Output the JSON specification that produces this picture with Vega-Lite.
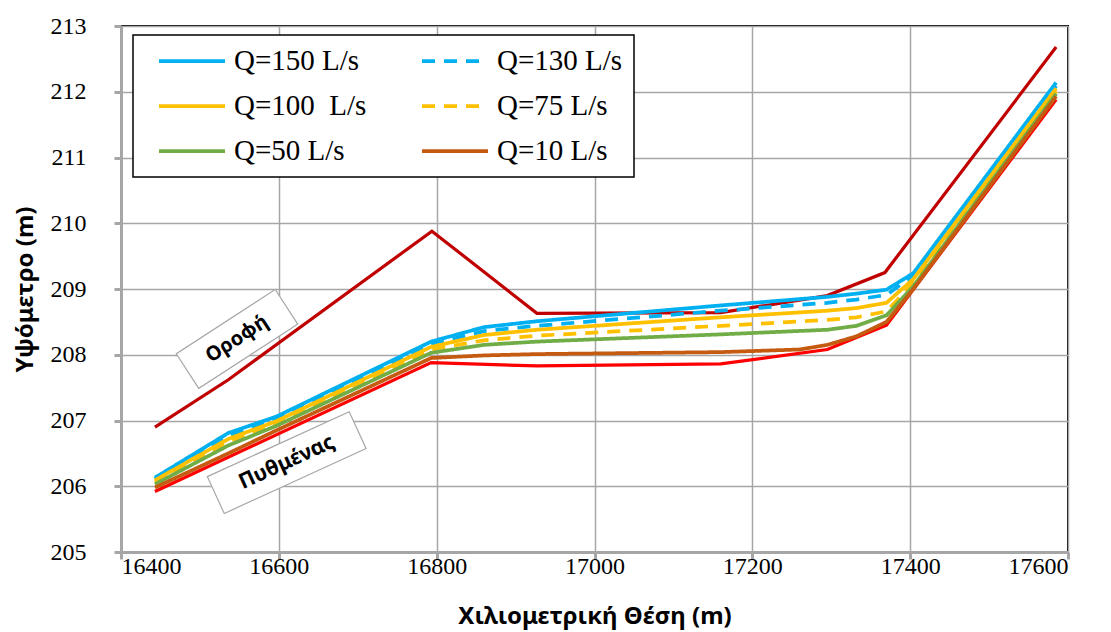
{
  "$schema": "https://vega.github.io/schema/vega-lite/v6.json",
  "width": 947,
  "height": 526,
  "autosize": {"type": "none"},
  "padding": {"left": 121, "top": 26, "right": 43, "bottom": 80},
  "background": "white",
  "datasets": {
    "flows": [
      {"x": 16443, "y": 206.13, "series": "Q=150 L/s"},
      {"x": 16536, "y": 206.81, "series": "Q=150 L/s"},
      {"x": 16597, "y": 207.06, "series": "Q=150 L/s"},
      {"x": 16793, "y": 208.2, "series": "Q=150 L/s"},
      {"x": 16860, "y": 208.42, "series": "Q=150 L/s"},
      {"x": 16927, "y": 208.51, "series": "Q=150 L/s"},
      {"x": 17160, "y": 208.75, "series": "Q=150 L/s"},
      {"x": 17295, "y": 208.88, "series": "Q=150 L/s"},
      {"x": 17332, "y": 208.93, "series": "Q=150 L/s"},
      {"x": 17370, "y": 208.99, "series": "Q=150 L/s"},
      {"x": 17404, "y": 209.24, "series": "Q=150 L/s"},
      {"x": 17585, "y": 212.14, "series": "Q=150 L/s"},
      {"x": 16443, "y": 206.11, "series": "Q=130 L/s"},
      {"x": 16536, "y": 206.77, "series": "Q=130 L/s"},
      {"x": 16597, "y": 207.03, "series": "Q=130 L/s"},
      {"x": 16793, "y": 208.16, "series": "Q=130 L/s"},
      {"x": 16860, "y": 208.36, "series": "Q=130 L/s"},
      {"x": 16927, "y": 208.44, "series": "Q=130 L/s"},
      {"x": 17160, "y": 208.67, "series": "Q=130 L/s"},
      {"x": 17295, "y": 208.79, "series": "Q=130 L/s"},
      {"x": 17332, "y": 208.84, "series": "Q=130 L/s"},
      {"x": 17370, "y": 208.91, "series": "Q=130 L/s"},
      {"x": 17404, "y": 209.21, "series": "Q=130 L/s"},
      {"x": 17585, "y": 212.09, "series": "Q=130 L/s"},
      {"x": 16443, "y": 206.09, "series": "Q=100 \u00a0L/s"},
      {"x": 16536, "y": 206.72, "series": "Q=100 \u00a0L/s"},
      {"x": 16597, "y": 206.99, "series": "Q=100 \u00a0L/s"},
      {"x": 16793, "y": 208.12, "series": "Q=100 \u00a0L/s"},
      {"x": 16860, "y": 208.3, "series": "Q=100 \u00a0L/s"},
      {"x": 16927, "y": 208.38, "series": "Q=100 \u00a0L/s"},
      {"x": 17160, "y": 208.57, "series": "Q=100 \u00a0L/s"},
      {"x": 17295, "y": 208.67, "series": "Q=100 \u00a0L/s"},
      {"x": 17332, "y": 208.71, "series": "Q=100 \u00a0L/s"},
      {"x": 17370, "y": 208.79, "series": "Q=100 \u00a0L/s"},
      {"x": 17404, "y": 209.15, "series": "Q=100 \u00a0L/s"},
      {"x": 17585, "y": 212.05, "series": "Q=100 \u00a0L/s"},
      {"x": 16443, "y": 206.06, "series": "Q=75 L/s"},
      {"x": 16536, "y": 206.68, "series": "Q=75 L/s"},
      {"x": 16597, "y": 206.96, "series": "Q=75 L/s"},
      {"x": 16793, "y": 208.08, "series": "Q=75 L/s"},
      {"x": 16860, "y": 208.22, "series": "Q=75 L/s"},
      {"x": 16927, "y": 208.29, "series": "Q=75 L/s"},
      {"x": 17160, "y": 208.44, "series": "Q=75 L/s"},
      {"x": 17295, "y": 208.53, "series": "Q=75 L/s"},
      {"x": 17332, "y": 208.57, "series": "Q=75 L/s"},
      {"x": 17370, "y": 208.66, "series": "Q=75 L/s"},
      {"x": 17404, "y": 209.09, "series": "Q=75 L/s"},
      {"x": 17585, "y": 212.01, "series": "Q=75 L/s"},
      {"x": 16443, "y": 206.03, "series": "Q=50 L/s"},
      {"x": 16536, "y": 206.62, "series": "Q=50 L/s"},
      {"x": 16597, "y": 206.92, "series": "Q=50 L/s"},
      {"x": 16793, "y": 208.03, "series": "Q=50 L/s"},
      {"x": 16860, "y": 208.15, "series": "Q=50 L/s"},
      {"x": 16927, "y": 208.2, "series": "Q=50 L/s"},
      {"x": 17160, "y": 208.31, "series": "Q=50 L/s"},
      {"x": 17295, "y": 208.38, "series": "Q=50 L/s"},
      {"x": 17332, "y": 208.44, "series": "Q=50 L/s"},
      {"x": 17370, "y": 208.6, "series": "Q=50 L/s"},
      {"x": 17404, "y": 209.04, "series": "Q=50 L/s"},
      {"x": 17585, "y": 211.97, "series": "Q=50 L/s"},
      {"x": 16443, "y": 205.98, "series": "Q=10 L/s"},
      {"x": 16536, "y": 206.5, "series": "Q=10 L/s"},
      {"x": 16597, "y": 206.85, "series": "Q=10 L/s"},
      {"x": 16793, "y": 207.95, "series": "Q=10 L/s"},
      {"x": 16860, "y": 207.99, "series": "Q=10 L/s"},
      {"x": 16927, "y": 208.01, "series": "Q=10 L/s"},
      {"x": 17160, "y": 208.04, "series": "Q=10 L/s"},
      {"x": 17260, "y": 208.08, "series": "Q=10 L/s"},
      {"x": 17295, "y": 208.15, "series": "Q=10 L/s"},
      {"x": 17332, "y": 208.28, "series": "Q=10 L/s"},
      {"x": 17370, "y": 208.5, "series": "Q=10 L/s"},
      {"x": 17404, "y": 209.0, "series": "Q=10 L/s"},
      {"x": 17585, "y": 211.93, "series": "Q=10 L/s"}
    ],
    "bed": [
      {"x": 16443, "y": 205.92},
      {"x": 16793, "y": 207.88},
      {"x": 16927, "y": 207.83},
      {"x": 17160, "y": 207.86},
      {"x": 17295, "y": 208.08},
      {"x": 17370, "y": 208.45},
      {"x": 17585, "y": 211.88}
    ],
    "roof": [
      {"x": 16443, "y": 206.9},
      {"x": 16536, "y": 207.62},
      {"x": 16794, "y": 209.88},
      {"x": 16927, "y": 208.63},
      {"x": 17160, "y": 208.64},
      {"x": 17295, "y": 208.9},
      {"x": 17368, "y": 209.25},
      {"x": 17585, "y": 212.68}
    ],
    "roofLabel": [{"x": 16547, "y": 208.24, "label": "Οροφή"}],
    "bedLabel": [{"x": 16610, "y": 206.36, "label": "Πυθμένας"}]
  },
  "layer": [
    {
      "data": {"name": "bed"},
      "mark": {"type": "line", "color": "#FF0000", "strokeWidth": 3.2},
      "encoding": {
        "x": {"field": "x", "type": "quantitative", "scale": {"domain": [16400, 17600], "nice": false},
          "axis": {"values": [16400, 16600, 16800, 17000, 17200, 17400, 17600], "title": "Χιλιομετρική Θέση (m)", "format": "d"}},
        "y": {"field": "y", "type": "quantitative", "scale": {"domain": [205, 213], "nice": false, "zero": false},
          "axis": {"values": [205, 206, 207, 208, 209, 210, 211, 212, 213], "title": "Υψόμετρο (m)", "format": "d"}}
      }
    },
    {
      "data": {"name": "roof"},
      "mark": {"type": "line", "color": "#C00000", "strokeWidth": 3.2},
      "encoding": {
        "x": {"field": "x", "type": "quantitative"},
        "y": {"field": "y", "type": "quantitative"}
      }
    },
    {
      "data": {"name": "flows"},
      "mark": {"type": "line", "strokeWidth": 3.75},
      "encoding": {
        "x": {"field": "x", "type": "quantitative"},
        "y": {"field": "y", "type": "quantitative"},
        "color": {"field": "series", "type": "nominal",
          "scale": {"domain": ["Q=150 L/s", "Q=100 \u00a0L/s", "Q=50 L/s", "Q=130 L/s", "Q=75 L/s", "Q=10 L/s"],
                    "range": ["#00B0F0", "#FFC000", "#70AD47", "#00B0F0", "#FFC000", "#C55A11"]},
          "legend": {"title": null}},
        "strokeDash": {"field": "series", "type": "nominal",
          "scale": {"domain": ["Q=150 L/s", "Q=100 \u00a0L/s", "Q=50 L/s", "Q=130 L/s", "Q=75 L/s", "Q=10 L/s"],
                    "range": [[1, 0], [1, 0], [1, 0], [13, 9], [13, 9], [1, 0]]},
          "legend": {"title": null}},
        "order": {"field": "x", "type": "quantitative"}
      }
    },
    {
      "data": {"name": "roofLabel"},
      "mark": {"type": "point", "shape": "M-1,-0.35L1,-0.35L1,0.35L-1,0.35Z", "size": 13924, "angle": -33, "filled": true, "fill": "white", "stroke": "#A6A6A6", "strokeWidth": 1.2, "opacity": 1},
      "encoding": {
        "x": {"field": "x", "type": "quantitative"},
        "y": {"field": "y", "type": "quantitative"}
      }
    },
    {
      "data": {"name": "roofLabel"},
      "mark": {"type": "text", "angle": -33, "font": "Noto Sans", "fontWeight": "bold", "fontSize": 20, "color": "black", "baseline": "middle", "align": "center"},
      "encoding": {
        "x": {"field": "x", "type": "quantitative"},
        "y": {"field": "y", "type": "quantitative"},
        "text": {"field": "label"}
      }
    },
    {
      "data": {"name": "bedLabel"},
      "mark": {"type": "point", "shape": "M-1,-0.26L1,-0.26L1,0.26L-1,0.26Z", "size": 24336, "angle": -24.6, "filled": true, "fill": "white", "stroke": "#A6A6A6", "strokeWidth": 1.2, "opacity": 1},
      "encoding": {
        "x": {"field": "x", "type": "quantitative"},
        "y": {"field": "y", "type": "quantitative"}
      }
    },
    {
      "data": {"name": "bedLabel"},
      "mark": {"type": "text", "angle": -24.6, "font": "Noto Sans", "fontWeight": "bold", "fontSize": 21, "color": "black", "baseline": "middle", "align": "center"},
      "encoding": {
        "x": {"field": "x", "type": "quantitative"},
        "y": {"field": "y", "type": "quantitative"},
        "text": {"field": "label"}
      }
    }
  ],
  "config": {
    "view": {"stroke": "black", "strokeWidth": 2},
    "axis": {
      "domainColor": "#A6A6A6", "domainWidth": 3,
      "tickColor": "#A6A6A6", "tickWidth": 3, "tickSize": 7,
      "gridColor": "#A6A6A6", "gridWidth": 1.5,
      "labelFont": "Liberation Serif", "labelFontSize": 24, "labelColor": "black",
      "titleFont": "Noto Sans", "titleFontWeight": "bold", "titleFontSize": 24, "titleColor": "black"
    },
    "axisX": {"labelPadding": -5, "titlePadding": 26},
    "axisY": {"labelPadding": 28, "titlePadding": 13},
    "legend": {
      "orient": "none", "legendX": 12, "legendY": 9,
      "columns": 2, "symbolType": "stroke", "symbolSize": 4356, "symbolStrokeWidth": 3.75, "symbolOffset": 13,
      "labelFont": "Liberation Serif", "labelFontSize": 29, "labelColor": "black", "labelOffset": 7, "labelLimit": 400,
      "clipHeight": 30, "rowPadding": 15, "columnPadding": 40, "padding": 11,
      "strokeColor": "black", "strokeWidth": 1.5, "fillColor": "white"
    }
  }
}
